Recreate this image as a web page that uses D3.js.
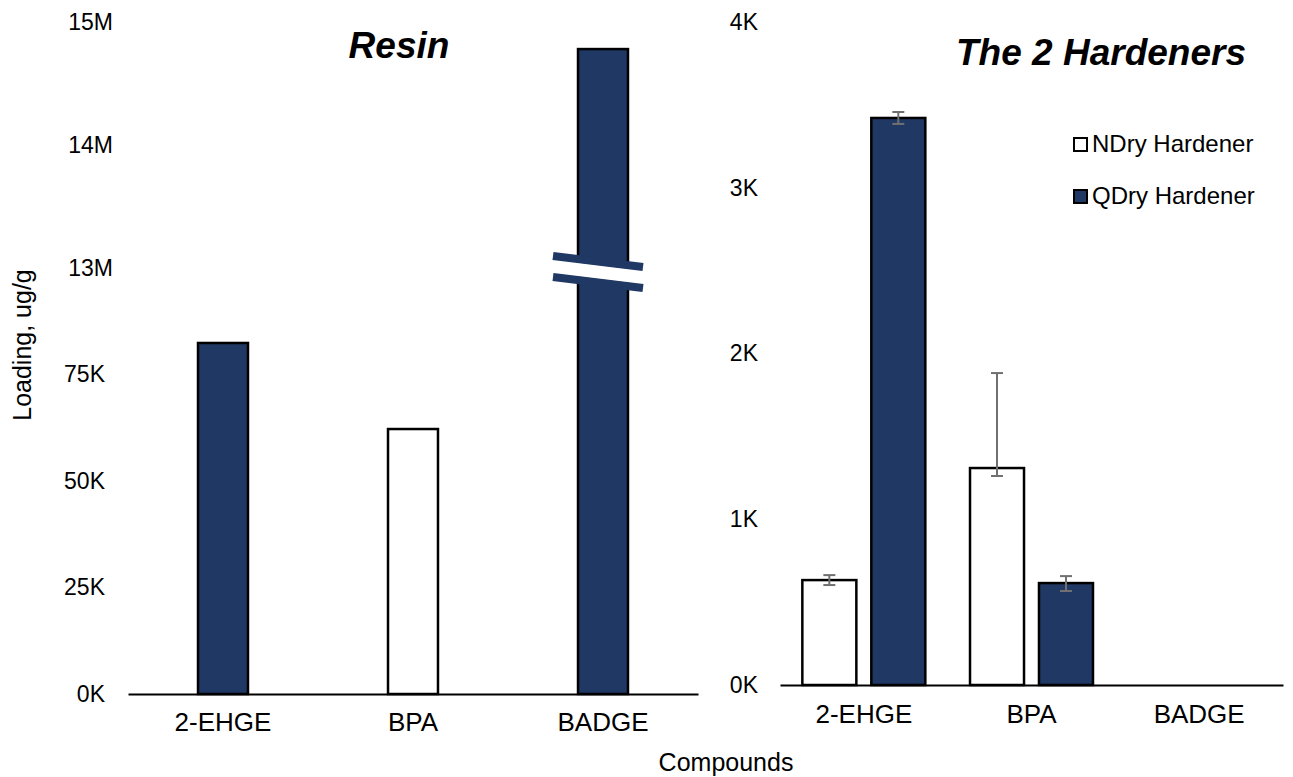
<!DOCTYPE html>
<html>
<head>
<meta charset="utf-8">
<script src="https://cdn.jsdelivr.net/npm/d3@7"></script>
<style>
  body { margin: 0; background: #fff; }
  svg { display: block; font-family: 'Liberation Sans', Arial, sans-serif; }
</style>
</head>
<body>
<svg id="chart" width="1293" height="777"></svg>
<script>
const compounds = ['2-EHGE', 'BPA', 'BADGE'];

// left panel (resin), broken axis
const resinValues = [82400, 62200, 14780000];
const resinLowTicks = [0, 25000, 50000, 75000];
const resinHighTicks = [13000000, 14000000, 15000000];
const resinBreak = 100000; // lower scale stops here, upper scale starts at 13M

// right panel (hardeners)
const hardeners = ['NDry Hardener', 'QDry Hardener'];
const ndryValues = [633, 1309, 0];
const ndryErrPlus = [30, 573, 0];
const ndryErrMinus = [30, 48, 0];
const qdryValues = [3421, 615, 0];
const qdryErrPlus = [36, 42, 0];
const qdryErrMinus = [36, 48, 0];
const hardenerTicks = [0, 1000, 2000, 3000, 4000];

const NAVY = '#203864';
const resinFill = { '2-EHGE': NAVY, BPA: '#fff', BADGE: NAVY };
const hardenerFill = { 'NDry Hardener': '#fff', 'QDry Hardener': NAVY };

const svg = d3.select('#chart');

function fmtK(v) {
  return v >= 1e6 ? v / 1e6 + 'M' : v / 1e3 + 'K';
}

/* ---------- left: Resin ---------- */
const xL = d3.scaleBand(compounds, [128, 698]).paddingInner(0.737).paddingOuter(0.3685);
const yLow = d3.scaleLinear([0, resinBreak], [694, 268]);
const yHigh = d3.scaleLinear([13000000, 15000000], [268, 22]);
const yResin = (v) => (v <= resinBreak ? yLow(v) : yHigh(v));

svg.append('g')
  .attr('transform', 'translate(128,0)')
  .call(d3.axisLeft(yLow).tickValues(resinLowTicks).tickSize(0).tickPadding(23).tickFormat(fmtK))
  .call((g) => g.select('.domain').remove())
  .selectAll('text').attr('font-size', 23).attr('font-family', null);

svg.append('g')
  .attr('transform', 'translate(128,0)')
  .call(d3.axisLeft(yHigh).tickValues(resinHighTicks).tickSize(0).tickPadding(15).tickFormat(fmtK))
  .call((g) => g.select('.domain').remove())
  .selectAll('text').attr('font-size', 23).attr('font-family', null);

const resinData = compounds.map((c, i) => ({ c, v: resinValues[i] }));

svg.append('g')
  .selectAll('rect')
  .data(resinData)
  .enter()
  .append('rect')
  .attr('x', (d) => xL(d.c))
  .attr('width', xL.bandwidth())
  .attr('y', (d) => yResin(d.v))
  .attr('height', (d) => yLow(0) - yResin(d.v))
  .attr('fill', (d) => resinFill[d.c])
  .attr('stroke', '#000')
  .attr('stroke-width', 2.5);

// break mark on the bars that cross the break
resinData.filter((d) => d.v > resinBreak).forEach((d) => {
  const cx = xL(d.c) + xL.bandwidth() / 2 - 5;
  const cy = yLow(resinBreak) + 4;
  const half = 45;
  const k = 11 / 89;
  const yAt = (x, off) => cy + k * (x - cx) + off;
  const g = svg.append('g');
  g.append('polygon')
    .attr('fill', '#fff')
    .attr('points', [
      [cx - half, yAt(cx - half, -7)],
      [cx + half, yAt(cx + half, -7)],
      [cx + half, yAt(cx + half, 7)],
      [cx - half, yAt(cx - half, 7)]
    ].map((p) => p.join(',')).join(' '));
  [-10.5, 10.5].forEach((off) => {
    g.append('line')
      .attr('x1', cx - half).attr('y1', yAt(cx - half, off))
      .attr('x2', cx + half).attr('y2', yAt(cx + half, off))
      .attr('stroke', NAVY)
      .attr('stroke-width', 8);
  });
});

svg.append('g')
  .attr('transform', `translate(0,${yLow(0)})`)
  .call(d3.axisBottom(xL).tickSize(0).tickSizeOuter(0).tickPadding(19))
  .call((g) => g.select('.domain').attr('stroke-width', 2))
  .selectAll('text').attr('font-size', 26).attr('font-family', null);

svg.append('text')
  .attr('x', 399)
  .attr('y', 58)
  .attr('text-anchor', 'middle')
  .attr('font-size', 37)
  .attr('font-weight', 'bold')
  .attr('font-style', 'italic')
  .text('Resin');

/* ---------- right: The 2 Hardeners ---------- */
const x0 = d3.scaleBand(compounds, [780, 1283]);
const x1 = d3.scaleBand(hardeners, [0, x0.bandwidth()]).paddingInner(0.217).paddingOuter(0.324);
const yR = d3.scaleLinear([0, 4000], [685, 22]);

svg.append('g')
  .attr('transform', 'translate(780,0)')
  .call(d3.axisLeft(yR).tickValues(hardenerTicks).tickSize(0).tickPadding(22).tickFormat(fmtK))
  .call((g) => g.select('.domain').remove())
  .selectAll('text').attr('font-size', 23).attr('font-family', null);

const seriesVals = [ndryValues, qdryValues];
const seriesPlus = [ndryErrPlus, qdryErrPlus];
const seriesMinus = [ndryErrMinus, qdryErrMinus];

const hardenerData = [];
hardeners.forEach((s, si) => {
  compounds.forEach((c, ci) => {
    hardenerData.push({
      s, c,
      v: seriesVals[si][ci],
      ep: seriesPlus[si][ci],
      em: seriesMinus[si][ci]
    });
  });
});

svg.append('g')
  .attr('transform', `translate(0,${yR(0)})`)
  .call(d3.axisBottom(x0).tickSize(0).tickSizeOuter(0).tickPadding(20))
  .call((g) => g.select('.domain').attr('stroke-width', 2))
  .selectAll('text').attr('font-size', 26).attr('font-family', null);

svg.append('g')
  .selectAll('rect')
  .data(hardenerData.filter((d) => d.v > 0))
  .enter()
  .append('rect')
  .attr('x', (d) => x0(d.c) + x1(d.s))
  .attr('width', x1.bandwidth())
  .attr('y', (d) => yR(d.v))
  .attr('height', (d) => yR(0) - yR(d.v))
  .attr('fill', (d) => hardenerFill[d.s])
  .attr('stroke', '#000')
  .attr('stroke-width', 2.5);

const errG = svg.append('g')
  .attr('stroke', '#707070')
  .attr('stroke-width', 2);
hardenerData.filter((d) => d.ep > 0 || d.em > 0).forEach((d) => {
  const cx = x0(d.c) + x1(d.s) + x1.bandwidth() / 2;
  const top = yR(d.v + d.ep);
  const bot = yR(d.v - d.em);
  errG.append('line').attr('x1', cx).attr('x2', cx).attr('y1', top).attr('y2', bot);
  errG.append('line').attr('x1', cx - 6).attr('x2', cx + 6).attr('y1', top).attr('y2', top);
  errG.append('line').attr('x1', cx - 6).attr('x2', cx + 6).attr('y1', bot).attr('y2', bot);
});

svg.append('text')
  .attr('x', 1101)
  .attr('y', 65)
  .attr('text-anchor', 'middle')
  .attr('font-size', 37)
  .attr('font-weight', 'bold')
  .attr('font-style', 'italic')
  .text('The 2 Hardeners');

// legend
const legend = svg.append('g')
  .selectAll('g')
  .data(hardeners)
  .enter()
  .append('g')
  .attr('transform', (d, i) => `translate(1074,${144 + i * 52})`);
legend.append('rect')
  .attr('x', 0).attr('y', -6)
  .attr('width', 13).attr('height', 13)
  .attr('fill', (d) => hardenerFill[d])
  .attr('stroke', '#000')
  .attr('stroke-width', 2);
legend.append('text')
  .attr('x', 18)
  .attr('y', 0)
  .attr('dy', '0.35em')
  .attr('font-size', 24)
  .text((d) => d);

/* ---------- shared axis titles ---------- */
svg.append('text')
  .attr('transform', 'translate(31,345) rotate(-90)')
  .attr('text-anchor', 'middle')
  .attr('font-size', 25)
  .text('Loading, ug/g');

svg.append('text')
  .attr('x', 726)
  .attr('y', 771)
  .attr('text-anchor', 'middle')
  .attr('font-size', 25)
  .text('Compounds');
</script>
</body>
</html>
